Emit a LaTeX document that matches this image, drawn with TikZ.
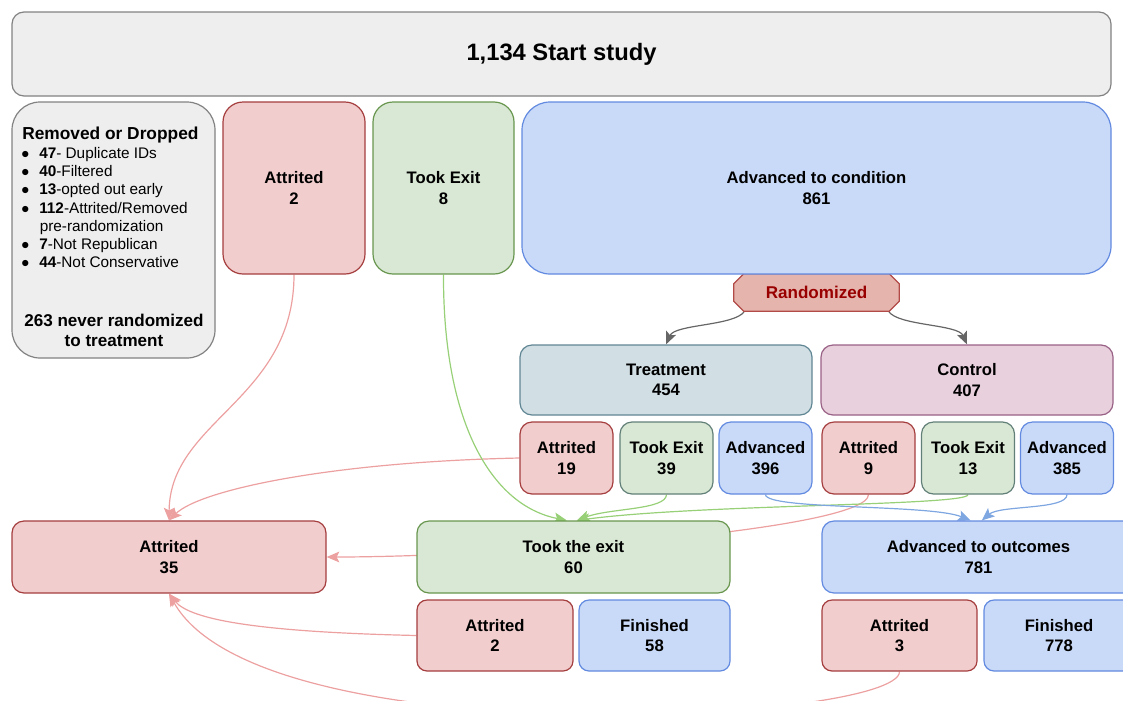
\documentclass[tikz,border=0pt]{standalone}
\usepackage{fontspec}
\setmainfont{Liberation Sans}
\usepackage{tikz}
\usetikzlibrary{arrows.meta,backgrounds,positioning}

\definecolor{mygrayfill}{RGB}{238,238,238}
\definecolor{mygrayline}{RGB}{130,130,130}
\definecolor{myredfill}{RGB}{242,205,205}
\definecolor{myredline}{RGB}{165,62,62}
\definecolor{mygreenfill}{RGB}{217,232,212}
\definecolor{mygreenline}{RGB}{104,150,78}
\definecolor{mytealline}{RGB}{98,128,120}
\definecolor{mybluefill}{RGB}{201,218,248}
\definecolor{myblueline}{RGB}{98,138,224}
\definecolor{mytreatfill}{RGB}{209,222,227}
\definecolor{mytreatline}{RGB}{96,134,148}
\definecolor{myctrlfill}{RGB}{232,208,221}
\definecolor{myctrlline}{RGB}{153,97,133}
\definecolor{myrandfill}{RGB}{229,181,173}
\definecolor{myrandline}{RGB}{178,74,72}
\definecolor{myrandtext}{RGB}{153,0,0}
\definecolor{myredarrow}{RGB}{236,160,160}
\definecolor{mygreenarrow}{RGB}{151,208,119}
\definecolor{mybluearrow}{RGB}{126,166,224}
\definecolor{mygrayarrow}{RGB}{102,102,102}

\begin{document}
\begin{tikzpicture}[
  x=0.75pt,
  y=-0.75pt,
  mybox/.style 2 args={
    draw,
    line width=0.9pt,
    rounded corners=9pt,
    inner sep=0pt,
    align=center,
    minimum width=#1*0.75pt,
    minimum height=#2*0.75pt,
    font=\fontsize{12.5}{15.5}\selectfont\bfseries
  },
  mygray/.style={fill=mygrayfill, draw=mygrayline},
  myred/.style={fill=myredfill, draw=myredline},
  mygreen/.style={fill=mygreenfill, draw=mygreenline},
  myteal/.style={fill=mygreenfill, draw=mytealline},
  myblue/.style={fill=mybluefill, draw=myblueline},
  mytreat/.style={fill=mytreatfill, draw=mytreatline},
  myctrl/.style={fill=myctrlfill, draw=myctrlline},
  mylist/.style={
    anchor=west,
    inner sep=0pt,
    text height=8pt,
    text depth=2.5pt,
    font=\fontsize{11.5}{13.5}\selectfont
  },
  myarrow/.style={line width=0.9pt, -{Stealth[length=9.5pt,width=8pt,inset=2pt]}}
]
\path[use as bounding box] (0,0) rectangle (1123,700);
\clip (0,0) rectangle (1123,700);

% top row
\node[mybox={1099}{84}, mygray, font=\fontsize{17.8}{21}\selectfont\bfseries] (start) at (561.5,54) {1,134 Start study};

\node[mybox={203}{256}, mygray, rounded corners=21pt] (removed) at (113.5,230) {};
\node[anchor=west, inner sep=0pt, text height=9pt, text depth=3pt, font=\fontsize{13}{15}\selectfont\bfseries] (rtitle) at (22,135) {Removed or Dropped};
\node[mylist] (r1) at (21,155) {$\bullet$\hspace{7.5pt}\textbf{47}- Duplicate IDs};
\node[mylist] (r2) at (21,173) {$\bullet$\hspace{7.5pt}\textbf{40}-Filtered};
\node[mylist] (r3) at (21,191) {$\bullet$\hspace{7.5pt}\textbf{13}-opted out early};
\node[mylist] (r4) at (21,210) {$\bullet$\hspace{7.5pt}\textbf{112}-Attrited/Removed};
\node[mylist] (r4b) at (39.5,228) {pre-randomization};
\node[mylist] (r5) at (21,246) {$\bullet$\hspace{7.5pt}\textbf{7}-Not Republican};
\node[mylist] (r6) at (21,264) {$\bullet$\hspace{7.5pt}\textbf{44}-Not Conservative};
\node[align=center, inner sep=0pt, font=\fontsize{12.8}{15.5}\selectfont\bfseries] (never) at (114,330.5) {263 never randomized\\to treatment};

\node[mybox={142}{172}, myred, rounded corners=15pt] (attr2) at (294,188) {Attrited\\2};
\node[mybox={141}{172}, mygreen, rounded corners=15pt] (exit8) at (443.5,188) {Took Exit\\8};
\node[mybox={589}{172}, myblue, rounded corners=21pt] (advcond) at (816.5,188) {Advanced to condition\\861};

\node[inner sep=0pt, minimum width=165*0.75pt, minimum height=37*0.75pt, text=myrandtext, font=\fontsize{12.8}{15}\selectfont\bfseries] (rand) at (816.5,292.5) {Randomized};

% arms
\node[mybox={292}{70}, mytreat] (treat) at (666,380) {Treatment\\454};
\node[mybox={292}{70}, myctrl] (ctrl) at (967,380) {Control\\407};

\node[mybox={93}{72}, myred] (a19) at (566.5,458) {Attrited\\19};
\node[mybox={93}{72}, myteal] (e39) at (666.5,458) {Took Exit\\39};
\node[mybox={93}{72}, myblue] (adv396) at (765.5,458) {Advanced\\396};
\node[mybox={93}{72}, myred] (a9) at (868.5,458) {Attrited\\9};
\node[mybox={93}{72}, myteal] (e13) at (968,458) {Took Exit\\13};
\node[mybox={93}{72}, myblue] (adv385) at (1067,458) {Advanced\\385};

% outcomes
\node[mybox={314}{72}, myred] (a35) at (169,557) {Attrited\\35};
\node[mybox={313}{72}, mygreen] (exit60) at (573.5,557) {Took the exit\\60};
\node[mybox={313}{72}, myblue] (advout) at (978.5,557) {Advanced to outcomes\\781};

\node[mybox={156}{71}, myred, rounded corners=7.5pt] (a2b) at (495,635.5) {Attrited\\2};
\node[mybox={151}{71}, myblue, rounded corners=7.5pt] (fin58) at (654.5,635.5) {Finished\\58};
\node[mybox={155}{71}, myred, rounded corners=7.5pt] (a3) at (899.5,635.5) {Attrited\\3};
\node[mybox={150}{71}, myblue, rounded corners=7.5pt] (fin778) at (1059,635.5) {Finished\\778};

\begin{pgfonlayer}{background}
\clip (0,0) rectangle (1123,700);
% red ones
\draw[myarrow, myredarrow] (attr2.south) .. controls (294,400) and (170,420) .. (a35.north);
\draw[myarrow, myredarrow] (a19.west) .. controls (330,462) and (200,490) .. (a35.north);
\draw[myarrow, myredarrow] (a9.south) .. controls (868,530) and (500,557) .. (a35.east);
\draw[myarrow, myredarrow] (a2b.west) .. controls (260,632) and (190,620) .. (a35.south);
\draw[myarrow, myredarrow] (a3.south) .. controls (899,722) and (260,758) .. (a35.south);
% green ones
\draw[myarrow, mygreenarrow] (exit8.south) .. controls (443,420) and (490,505) .. ([xshift=-5pt]exit60.north);
\draw[myarrow, mygreenarrow] (e39.south) .. controls (666,510) and (610,508) .. ([xshift=2.5pt]exit60.north);
\draw[myarrow, mygreenarrow] (e13.south) .. controls (968,506) and (700,504) .. ([xshift=2.5pt]exit60.north);
% blue ones
\draw[myarrow, mybluearrow] (adv396.south) .. controls (766,510) and (930,504) .. ([xshift=-6pt]advout.north);
\draw[myarrow, mybluearrow] (adv385.south) .. controls (1067,510) and (1000,505) .. ([xshift=2.5pt]advout.north);
% randomization
\draw[myarrow, mygrayarrow] ([xshift=-54pt]rand.south) .. controls (735,326) and (675,324) .. (treat.north);
\draw[myarrow, mygrayarrow] ([xshift=54pt]rand.south) .. controls (898,326) and (958,324) .. (ctrl.north);
\draw[draw=myrandline, fill=myrandfill, line width=0.9pt]
  ([xshift=7.5pt]rand.north west) -- ([xshift=-7.5pt]rand.north east)
  -- ([yshift=-7.5pt]rand.north east) -- ([yshift=7.5pt]rand.south east)
  -- ([xshift=-7.5pt]rand.south east) -- ([xshift=7.5pt]rand.south west)
  -- ([yshift=7.5pt]rand.south west) -- ([yshift=-7.5pt]rand.north west) -- cycle;
\end{pgfonlayer}

\end{tikzpicture}
\end{document}
